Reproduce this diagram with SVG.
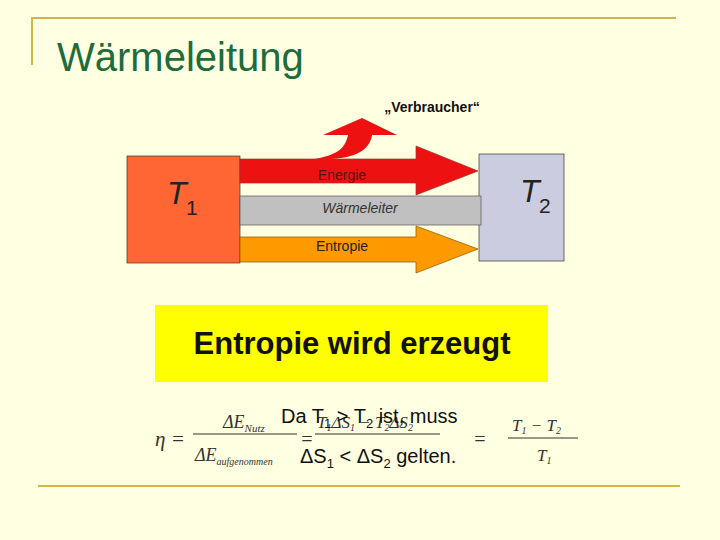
<svg xmlns="http://www.w3.org/2000/svg" width="720" height="540" viewBox="0 0 720 540">
<style>
.s{font-family:"Liberation Sans",Arial,sans-serif}
.m{font-family:"Liberation Serif","Times New Roman",serif;font-style:italic;fill:#333}
</style>
<rect width="720" height="540" fill="#FFFFE1"/>
<g id="frame" stroke="#D4B44A" stroke-width="2" fill="none">
<path d="M32 65V18H676"/><path d="M38 486H680"/>
</g>
<text class="s" x="57" y="71" font-size="40" fill="#1E6B3C">Wärmeleitung</text>
<g id="T1"><rect x="127" y="156" width="113" height="107" fill="#FF6633" stroke="#333" stroke-width="0.7"/>
<text class="s" x="167" y="204" font-size="32" font-style="italic" fill="#222">T</text><text class="s" x="186" y="215" font-size="21" fill="#222">1</text></g>
<g id="T2"><rect x="479" y="154" width="85" height="107" fill="#CCCCE0" stroke="#333" stroke-width="0.7"/>
<text class="s" x="520" y="202" font-size="32" font-style="italic" fill="#222">T</text><text class="s" x="539" y="213" font-size="21" fill="#222">2</text></g>
<g id="leiter"><rect x="240" y="196" width="241" height="29" fill="#C0C0C0" stroke="#555" stroke-width="0.7"/>
<text class="s" x="360" y="213" font-size="14" font-style="italic" fill="#333" text-anchor="middle">Wärmeleiter</text></g>
<g id="connectors">
<g id="energie"><path d="M240 159H416V146L478 171L416 195V183H240Z" fill="#EE1111" stroke="#993333" stroke-width="0.7"/>
<path d="M315 159C335 155 345 150 348 135H323L362 118L397 135H372C370 150 355 158 330 159Z" fill="#EE1111"/>
<text class="s" x="342" y="180" font-size="14" fill="#551111" text-anchor="middle">Energie</text></g>
<g id="entropie"><path d="M240 237H416V226L478 249L416 273V262H240Z" fill="#FF9900" stroke="#885500" stroke-width="0.7"/>
<text class="s" x="342" y="251" font-size="14" fill="#222" text-anchor="middle">Entropie</text></g>
</g>
<text class="s" x="432" y="112" font-size="14" font-weight="bold" fill="#111" text-anchor="middle">„Verbraucher“</text>
<g id="box"><rect x="155" y="305" width="393" height="77" fill="#FFFF00"/>
<text class="s" x="352" y="354" font-size="31" font-weight="bold" fill="#111" text-anchor="middle">Entropie wird erzeugt</text></g>
<g id="formula">
<text class="m" x="155" y="446" font-size="21">η =</text>
<text class="m" x="223" y="428" font-size="18">ΔE<tspan font-size="11" dy="4">Nutz</tspan></text>
<line x1="193" y1="434" x2="297" y2="434" stroke="#333"/>
<text class="m" x="195" y="461" font-size="18">ΔE<tspan font-size="10" dy="4">aufgenommen</tspan></text>
<text class="m" x="300" y="446" font-size="20">=</text>
<text class="m" x="317" y="428" font-size="17">T<tspan font-size="10" dy="3">1</tspan><tspan dy="-3">ΔS</tspan><tspan font-size="10" dy="3">1</tspan><tspan dy="-3"> − T</tspan><tspan font-size="10" dy="3">2</tspan><tspan dy="-3">ΔS</tspan><tspan font-size="10" dy="3">2</tspan></text>
<line x1="315" y1="434" x2="440" y2="434" stroke="#333"/>
<text class="m" x="473" y="446" font-size="20">=</text>
<text class="m" x="512" y="431" font-size="17">T<tspan font-size="10" dy="3">1</tspan><tspan dy="-3"> − T</tspan><tspan font-size="10" dy="3">2</tspan></text>
<line x1="508" y1="438" x2="578" y2="438" stroke="#333"/>
<text class="m" x="537" y="461" font-size="17">T<tspan font-size="10" dy="3">1</tspan></text>
</g>
<g id="hinweis" class="s" fill="#111" font-size="20">
<text x="281" y="423">Da T<tspan font-size="13" dy="5">1</tspan><tspan dy="-5"> &gt; T</tspan><tspan font-size="13" dy="5">2</tspan><tspan dy="-5"> ist, muss</tspan></text>
<text x="300" y="463">ΔS<tspan font-size="13" dy="5">1</tspan><tspan dy="-5"> &lt; ΔS</tspan><tspan font-size="13" dy="5">2</tspan><tspan dy="-5"> gelten.</tspan></text>
</g>
</svg>
